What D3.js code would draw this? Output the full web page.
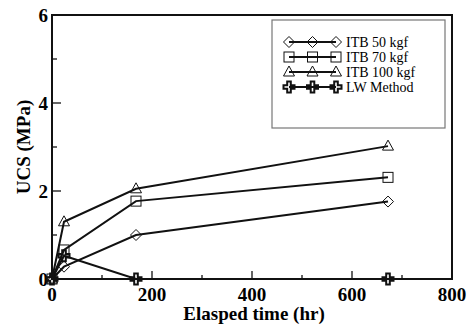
<!DOCTYPE html>
<html><head><meta charset="utf-8">
<script src="https://cdn.jsdelivr.net/npm/d3@7"></script>
<style>body{margin:0;background:#fff}svg{display:block}</style>
</head><body>
<svg id="c" width="470" height="330"></svg>
<script>
const times = [0, 24, 168, 672];
const itb50 = [0, 0.28, 1.0, 1.76];
const itb70 = [0, 0.66, 1.77, 2.31];
const itb100 = [0, 1.3, 2.05, 3.02];
const lw = [0, 0.53, 0, 0];
const seriesNames = ["ITB 50 kgf", "ITB 70 kgf", "ITB 100 kgf", "LW Method"];
const xTicks = [0, 200, 400, 600, 800];
const yTicks = [0, 2, 4, 6];
const xMinor = [100, 300, 500, 700];
const yMinor = [1, 3, 5];

const svg = d3.select("#c");
const L = 52, R = 452, T = 15, B = 279;
const x = d3.scaleLinear().domain([0, 800]).range([L, R]);
const y = d3.scaleLinear().domain([0, 6]).range([B, T]);
const font = "'Liberation Serif','Times New Roman',serif";

const series = [itb50, itb70, itb100, lw].map((v, i) => ({name: seriesNames[i], vals: v, type: i}));

function marker(g, type) {
  if (type === 0) g.append("path").attr("d", "M0,-5.5L5.5,0L0,5.5L-5.5,0Z");
  else if (type === 1) g.append("rect").attr("x", -5).attr("y", -5).attr("width", 10).attr("height", 10);
  else if (type === 2) g.append("path").attr("d", "M0,-6L5.5,4L-5.5,4Z");
  else g.append("path").attr("d", "M-1.8,-5.5H1.8V-1.8H5.5V1.8H1.8V5.5H-1.8V1.8H-5.5V-1.8H-1.8Z").attr("stroke-width", 2);
  g.selectAll("*").attr("fill", "none").attr("stroke", "#111").attr("stroke-width", function(){return d3.select(this).attr("stroke-width") || 1;});
}

// ticks
const tk = svg.append("g").attr("stroke", "#111").attr("stroke-width", 1.3);
xTicks.slice(1, -1).forEach(t => tk.append("line").attr("x1", x(t)).attr("x2", x(t)).attr("y1", B).attr("y2", B - 8));
xMinor.forEach(t => tk.append("line").attr("x1", x(t)).attr("x2", x(t)).attr("y1", B).attr("y2", B - 4));
yTicks.slice(1, -1).forEach(t => tk.append("line").attr("x1", L).attr("x2", L + 9).attr("y1", y(t)).attr("y2", y(t)));
yMinor.forEach(t => tk.append("line").attr("x1", L).attr("x2", L + 5).attr("y1", y(t)).attr("y2", y(t)));

// tick labels
svg.append("g").selectAll("text").data(xTicks).join("text")
  .attr("x", d => x(d)).attr("y", 301).attr("text-anchor", "middle")
  .attr("font-family", font).attr("font-weight", "bold").attr("font-size", 19).text(d => d);
svg.append("g").selectAll("text").data(yTicks).join("text")
  .attr("x", 48).attr("y", d => y(d)).attr("dy", "0.35em").attr("text-anchor", "end")
  .attr("font-family", font).attr("font-weight", "bold").attr("font-size", 19).text(d => d);

// axis titles
svg.append("text").attr("x", 254).attr("y", 320).attr("text-anchor", "middle")
  .attr("font-family", font).attr("font-weight", "bold").attr("font-size", 19).text("Elasped time (hr)");
svg.append("text").attr("transform", "translate(30,147) rotate(-90)").attr("text-anchor", "middle")
  .attr("font-family", font).attr("font-weight", "bold").attr("font-size", 19).text("UCS (MPa)");

// lines
const line = d3.line().x((d, i) => x(times[i])).y(d => y(d));
series.forEach(s => {
  svg.append("path").attr("d", line(s.vals)).attr("fill", "none").attr("stroke", "#111").attr("stroke-width", 2);
  s.vals.forEach((v, i) => {
    const g = svg.append("g").attr("transform", `translate(${x(times[i])},${y(v)})`);
    marker(g, s.type);
  });
});

// frame
svg.append("rect").attr("x", L).attr("y", T).attr("width", R - L).attr("height", B - T)
  .attr("fill", "none").attr("stroke", "#111").attr("stroke-width", 2);

// legend
const lg = svg.append("g");
lg.append("rect").attr("x", 272).attr("y", 20).attr("width", 173).attr("height", 108)
  .attr("fill", "#fff").attr("stroke", "#777").attr("stroke-width", 1.2);
series.forEach((s, i) => {
  const yy = 42 + i * 15;
  lg.append("line").attr("x1", 289).attr("x2", 336).attr("y1", yy).attr("y2", yy).attr("stroke", "#111").attr("stroke-width", 2);
  [289, 312.5, 336].forEach(mx => marker(lg.append("g").attr("transform", `translate(${mx},${yy})`), s.type));
  lg.append("text").attr("x", 346).attr("y", yy).attr("dy", "0.35em").attr("font-family", font)
    .attr("font-size", 14).text(s.name);
});
</script>
</body></html>
